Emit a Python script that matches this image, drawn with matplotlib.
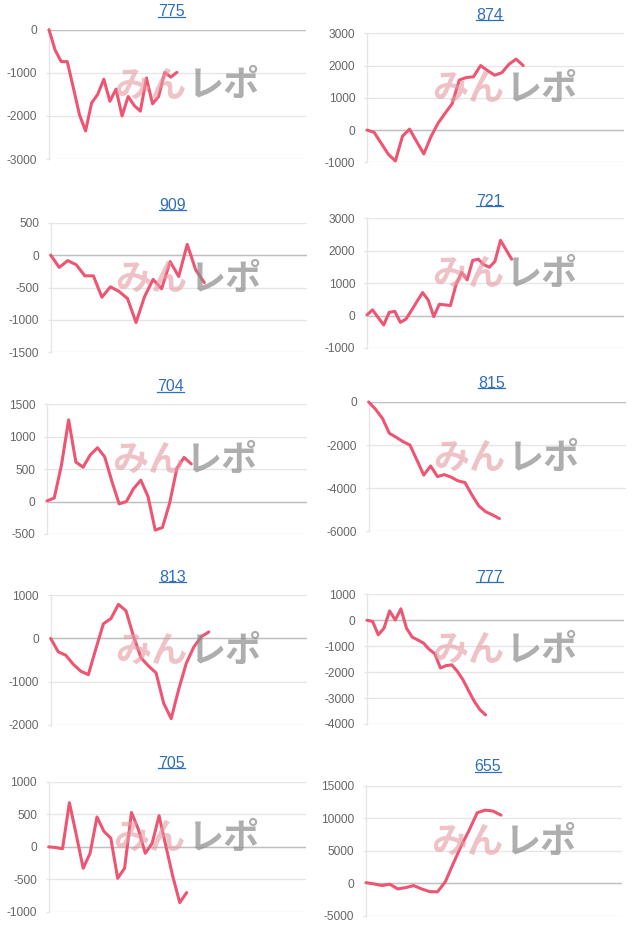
import matplotlib
matplotlib.use('Agg')
import matplotlib.pyplot as plt
from matplotlib.lines import Line2D

# ---------------- data ----------------
titles = ['775', '874', '909', '721', '704', '815', '813', '777', '705', '655']

v775 = [0, -470, -740, -740, -1350, -1970, -2350, -1700, -1500, -1150, -1660,
        -1380, -2000, -1550, -1760, -1890, -1120, -1720, -1550, -990, -1100, -990]
v874 = [0, -70, -410, -750, -960, -190, 30, -360, -740, -210, 210, 520, 820,
        1550, 1630, 1650, 2000, 1840, 1700, 1780, 2040, 2200, 2000]
v909 = [0, -190, -85, -150, -320, -320, -650, -490, -560, -670, -1040, -640,
        -375, -520, -100, -330, 165, -230, -425]
v721 = [20, 175, -60, -290, 100, 130, -210, -110, 160, 440, 710, 480, -30, 350,
        330, 310, 950, 1330, 1100, 1700, 1740, 1570, 1490, 1670, 2320, 2030, 1740]
v704 = [10, 55, 560, 1260, 610, 530, 720, 830, 690, 310, -35, 0, 200, 330, 80,
        -440, -400, -25, 510, 680, 580]
v815 = [0, -340, -760, -1450, -1640, -1840, -2000, -2690, -3390, -2970, -3460,
        -3370, -3490, -3660, -3740, -4310, -4820, -5090, -5240, -5410]
v813 = [0, -310, -390, -600, -760, -840, -240, 340, 460, 790, 640, 50, -450,
        -640, -800, -1500, -1860, -1180, -580, -200, 40, 150]
v777 = [0, -50, -560, -310, 360, 10, 440, -310, -650, -760, -880, -1120, -1290,
        -1840, -1750, -1720, -1970, -2300, -2720, -3130, -3450, -3650]
v705 = [0, -10, -30, 680, 185, -330, -100, 460, 240, 135, -485, -330, 530, 270,
        -100, 55, 480, 5, -460, -860, -705]
v655 = [100, -100, -350, -150, -870, -670, -350, -870, -1280, -1330, 260, 3080,
        5800, 8200, 10870, 11280, 11130, 10510]

values = [v775, v874, v909, v721, v704, v815, v813, v777, v705, v655]

yticks = [
    [-3000, -2000, -1000, 0],
    [-1000, 0, 1000, 2000, 3000],
    [-1500, -1000, -500, 0, 500],
    [-1000, 0, 1000, 2000, 3000],
    [-500, 0, 500, 1000, 1500],
    [-6000, -4000, -2000, 0],
    [-2000, -1000, 0, 1000],
    [-4000, -3000, -2000, -1000, 0, 1000],
    [-1000, -500, 0, 500, 1000],
    [-5000, 0, 5000, 10000, 15000],
]

# ---------------- layout (pixels) ----------------
W, H = 640, 931
# left, right, top, bottom, x-range, title y
layout = [
    (49.0, 306.0, 29.7, 159.0, 42.2, 12.0),
    (367.0, 624.0, 33.3, 162.3, 36.2, 15.0),
    (50.7, 306.7, 222.7, 352.3, 30.0, 205.0),
    (367.0, 624.0, 218.3, 348.0, 46.2, 201.0),
    (47.0, 306.7, 404.3, 534.0, 36.0, 386.7),
    (368.7, 626.0, 402.0, 531.3, 37.4, 383.0),
    (50.7, 306.7, 595.3, 724.7, 34.0, 577.0),
    (367.0, 624.0, 594.3, 724.0, 45.5, 577.0),
    (48.7, 306.0, 782.0, 911.7, 37.3, 763.0),
    (366.0, 621.7, 786.0, 915.7, 32.2, 766.7),
]

LINE = '#ee5572'
GRID = '#e6e6e6'
ZERO = '#bfbfbf'
TICK = '#666666'
TITLE = '#2f6fba'

fig = plt.figure(figsize=(W / 100, H / 100), dpi=100)
fig.patch.set_facecolor('white')

title_texts = []
for title, vals, ticks, (l, r, t, b, xr, ty) in zip(titles, values, yticks, layout):
    ax = fig.add_axes([l / W, 1 - b / H, (r - l) / W, (b - t) / H])
    ax.set_facecolor('none')
    ax.plot(range(len(vals)), vals, color=LINE, lw=2.2, solid_joinstyle='round',
            solid_capstyle='round', zorder=3, clip_on=False)
    ax.set_xlim(0, xr)
    ax.set_ylim(min(ticks), max(ticks))
    ax.set_yticks(ticks)
    ax.set_yticklabels([str(v) for v in ticks], family='Liberation Sans')
    ax.set_xticks([])
    for s in ['top', 'right', 'bottom']:
        ax.spines[s].set_visible(False)
    ax.spines['left'].set_color(GRID)
    ax.spines['left'].set_linewidth(1)
    ax.yaxis.grid(True, color=GRID, lw=1, zorder=0)
    ax.set_axisbelow(True)
    ax.axhline(0, color=ZERO, lw=1, zorder=1)
    ax.tick_params(axis='y', length=2, width=1, color=GRID, pad=6.5,
                   labelsize=8.6, labelcolor=TICK)

    cx = (l + r) / 2 - 6
    tt = fig.text(cx / W, 1 - ty / H, title, ha='center', va='center',
                  fontsize=11.5, color=TITLE, family='Liberation Sans')
    title_texts.append(tt)

    # watermark logo
    split = l + 137
    ly = 1 - ((t + b) / 2 - 8.5) / H
    fig.text(split / W, ly, 'みん', ha='right', va='center', fontsize=26,
             fontweight='bold', color='#e59aa3', alpha=0.6,
             family=['Noto Sans CJK JP', 'DejaVu Sans'], zorder=5)
    fig.text(split / W + 2 / W, ly, 'レポ', ha='left', va='center', fontsize=26,
             fontweight='bold', color='#8c8c8c', alpha=0.7,
             family=['Noto Sans CJK JP', 'DejaVu Sans'], zorder=5)

# underline the titles (link style)
fig.canvas.draw()
renderer = fig.canvas.get_renderer()
for tt in title_texts:
    bb = tt.get_window_extent(renderer)
    yline = bb.y0 + 2.5
    fig.add_artist(Line2D([bb.x0 / W, bb.x1 / W], [yline / H, yline / H],
                          color=TITLE, lw=0.9, transform=fig.transFigure))

fig.savefig('out.png', dpi=100, facecolor='white')
